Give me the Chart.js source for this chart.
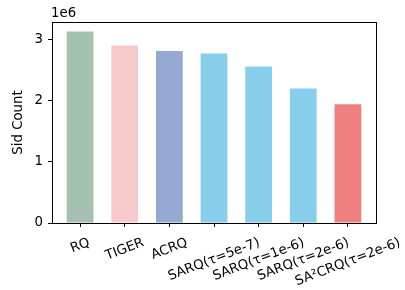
<!DOCTYPE html>
<html>
<head>
<meta charset="utf-8">
<script src="https://cdn.jsdelivr.net/npm/chart.js"></script>
<style>
  html, body { margin: 0; padding: 0; background: #fff; }
  #wrap { width: 405px; height: 290px; position: relative; }
</style>
</head>
<body>
<div id="wrap"><canvas id="chart"></canvas></div>
<script>
// data
const methods = ['RQ', 'TIGER', 'ACRQ', 'SARQ(τ=5e-7)', 'SARQ(τ=1e-6)', 'SARQ(τ=2e-6)', 'SA²CRQ(τ=2e-6)'];
const sidCounts = [3.13e6, 2.90e6, 2.81e6, 2.77e6, 2.56e6, 2.20e6, 1.94e6];
const barColors = ['#a5c2b0', '#f6caca', '#94aad2', '#87ceeb', '#87ceeb', '#87ceeb', '#f08080'];
const yTicks = [0, 1e6, 2e6, 3e6];

const FONT = 'DejaVu Sans';
const FS = 13.3;

// extra drawing: top/right spines, rotated x labels, offset text
const extras = {
  id: 'extras',
  afterDraw(chart) {
    const ctx = chart.ctx;
    const a = chart.chartArea;
    ctx.save();
    ctx.strokeStyle = '#000';
    ctx.lineWidth = 1;
    ctx.strokeRect(Math.round(a.left) + 0.5, Math.round(a.top) + 0.5,
      Math.round(a.right - a.left), Math.round(a.bottom - a.top));

    ctx.fillStyle = '#000';
    ctx.font = FS + 'px "' + FONT + '"';
    // offset label
    ctx.textAlign = 'left';
    ctx.textBaseline = 'alphabetic';
    ctx.fillText('1e6', a.left - 1, 17);

    // rotated category labels, centred on tick like matplotlib ha=center
    const xs = chart.scales.x;
    const rot = 21 * Math.PI / 180;
    const h = FS * 1.17;
    methods.forEach((m, i) => {
      const w = ctx.measureText(m).width;
      const bh = w * Math.sin(rot) + h * Math.cos(rot);
      const x = xs.getPixelForValue(i);
      const y = a.bottom + 12 + bh / 2;
      ctx.save();
      ctx.translate(x, y);
      ctx.rotate(-rot);
      ctx.textAlign = 'center';
      ctx.textBaseline = 'middle';
      ctx.fillText(m, 0, 0);
      ctx.restore();
    });
    ctx.restore();
  }
};

new Chart(document.getElementById('chart'), {
  type: 'bar',
  data: {
    datasets: [{
      data: methods.map((m, i) => ({ x: i, y: sidCounts[i] })),
      backgroundColor: barColors,
      borderWidth: 0,
      barPercentage: 0.6,
      categoryPercentage: 1.0
    }]
  },
  options: {
    responsive: true,
    maintainAspectRatio: false,
    animation: false,
    devicePixelRatio: 1,
    layout: { padding: { top: 22, right: 29, left: 0, bottom: 0 } },
    plugins: { legend: { display: false }, tooltip: { enabled: false } },
    scales: {
      x: {
        type: 'linear',
        offset: false,
        min: -0.63,
        max: 6.63,
        afterBuildTicks: s => { s.ticks = methods.map((m, i) => ({ value: i })); },
        afterFit: s => { s.height = 67; },
        ticks: { display: false },
        grid: { offset: false, drawOnChartArea: false, tickLength: 4, color: '#000', tickWidth: 1 },
        border: { display: true, color: '#000', width: 1 }
      },
      y: {
        min: 0,
        max: 3.286e6,
        afterBuildTicks: s => { s.ticks = yTicks.map(v => ({ value: v })); },
        afterFit: s => { s.width = 52; },
        ticks: {
          color: '#000',
          padding: 5,
          font: { family: FONT, size: FS },
          callback: v => (v / 1e6).toString()
        },
        grid: { drawOnChartArea: false, tickLength: 4, color: '#000', tickWidth: 1 },
        border: { display: true, color: '#000', width: 1 },
        title: {
          display: true,
          text: 'Sid Count',
          color: '#000',
          font: { family: FONT, size: FS },
          padding: { top: 11, bottom: 0 }
        }
      }
    }
  },
  plugins: [extras]
});
</script>
</body>
</html>
